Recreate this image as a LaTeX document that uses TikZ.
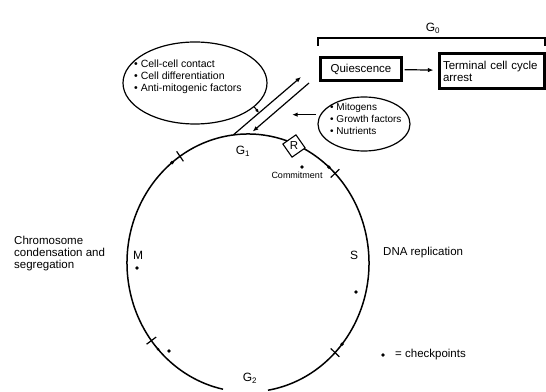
\documentclass[tikz,border=0pt]{standalone}
\usepackage{fontspec}
\setmainfont{Liberation Sans}
\usetikzlibrary{arrows.meta,shapes.geometric}
\begin{document}
\begin{tikzpicture}[x=1pt,y=1pt,
  lbl/.style={font=\fontsize{11.5}{12}\selectfont, inner sep=0pt},
  small/.style={font=\fontsize{10.5}{12}\selectfont, inner sep=0pt, align=left},
  chk/.style={circle, fill=black, inner sep=0pt, minimum size=3.8pt},
  boxd/.style={draw, line width=1.1pt, inner sep=0pt},
  arr/.style={-{Latex[length=5.5pt,width=4.5pt]}, line width=1.2pt},
  cyc/.style={line width=1.5pt},
  tick/.style={line width=1.2pt},
]
\useasboundingbox (0,0) rectangle (546,391);
\coordinate (cc) at (248,128);
% cell cycle
\draw[cyc] (cc) ++(279.5:121pt and 129pt) arc[start angle=279.5, end angle=618.1, x radius=121pt, y radius=129pt];
% checkpoint ticks
\draw[tick] (cc) ++(124.2:115pt and 123pt) -- ++(124.2:12pt);
\draw[tick] (cc) ++(44:115pt and 123pt) -- ++(44:12pt);
\draw[tick] (cc) ++(316:115pt and 123pt) -- ++(316:12pt);
\draw[tick] (cc) ++(217:115pt and 123pt) -- ++(217:12pt);
% checkpoint dots
\path (cc) ++(128.9:121pt and 129pt) node[chk] (k1) {};
\path (cc) ++(48:121pt and 129pt) node[chk] (k2) {};
\path (cc) ++(321:121pt and 129pt) node[chk] (k3) {};
\path (cc) ++(222:121pt and 129pt) node[chk, minimum size=3pt] (k4) {};
\node[chk] (k5) at (356,99) {};
\node[chk] (k6) at (137,123) {};
\node[chk] (k7) at (169,40) {};
% restriction point
\node[draw, fill=white, minimum size=16pt, rotate=35, line width=1.1pt] (r) at (294,245) {};
\node[lbl] (rl) at (r) {R};
\node[chk] (kc) at (302,224) {};
\node[font=\fontsize{9}{9}\selectfont, inner sep=0pt] (com) at (297,216) {Commitment};
% phase labels
\node[lbl, font=\fontsize{12}{12}\selectfont] (g1) at (243,240) {G\textsubscript{1}};
\node[lbl, font=\fontsize{12}{12}\selectfont] (g2) at (250,13) {G\textsubscript{2}};
\node[lbl, font=\fontsize{12}{12}\selectfont] (m) at (138,136) {M};
\node[lbl, font=\fontsize{12}{12}\selectfont] (s) at (354,136) {S};
\node[lbl, anchor=west, align=left] (chr) at (14,137) {Chromosome\\condensation and\\segregation};
\node[lbl, anchor=west] (dna) at (383,138) {DNA replication};
% legend
\node[chk] (ld) at (383,36) {};
\node[lbl, anchor=west] (lt) at (395,36) {= checkpoints};
% G0
\node[lbl, font=\fontsize{12}{12}\selectfont] (g0) at (433,363) {G\textsubscript{0}};
\draw[line width=1.2pt] (318,345) -- (318,353) -- (545,353) -- (545,345);
\node[boxd, minimum width=82pt, minimum height=24pt, lbl] (qui) at (361,322) {Quiescence};
\draw[line width=0.8pt] ([shift={(2.3pt,2.3pt)}]qui.south west) rectangle ([shift={(-2.3pt,-2.3pt)}]qui.north east);
\node[boxd, minimum width=106pt, minimum height=36pt, text width=98pt, align=left, lbl] (term) at (492,320) {Terminal cell cycle\\arrest};
\draw[line width=0.8pt] ([shift={(2.3pt,2.3pt)}]term.south west) rectangle ([shift={(-2.3pt,-2.3pt)}]term.north east);
\draw[arr, shorten <=2pt, shorten >=5pt] (qui) -- (term);
% exit / re-entry lines
\path (cc) ++(97:121pt and 129pt) coordinate (A1);
\coordinate (A2) at (301,314);
\coordinate (B1) at (309,308);
\coordinate (B2) at (252.7,259.5);
\draw[arr] (A1) -- (A2);
\draw[arr] (B1) -- (B2);
% ellipses
\node[draw, ellipse, minimum width=144pt, minimum height=82pt, line width=1.2pt] (inh) at (195,308) {};
\node[small, anchor=west] (inhtxt) at (134,314) {• Cell-cell contact\\• Cell differentiation\\• Anti-mitogenic factors};
\coordinate (f1) at (259,278);
\draw[-{Latex[length=4pt,width=3.5pt]}, line width=1.1pt] (inh.-22) -- (f1);
\node[draw, ellipse, minimum width=92pt, minimum height=54pt, line width=1.2pt] (mit) at (364,267) {};
\node[small, anchor=west, font=\fontsize{10}{12}\selectfont] (mittxt) at (330,272) {• Mitogens\\• Growth factors\\• Nutrients};
\draw[arr, shorten <=4pt] (mit.168) -- ++(-28,0) coordinate (mt);
\end{tikzpicture}
\end{document}
